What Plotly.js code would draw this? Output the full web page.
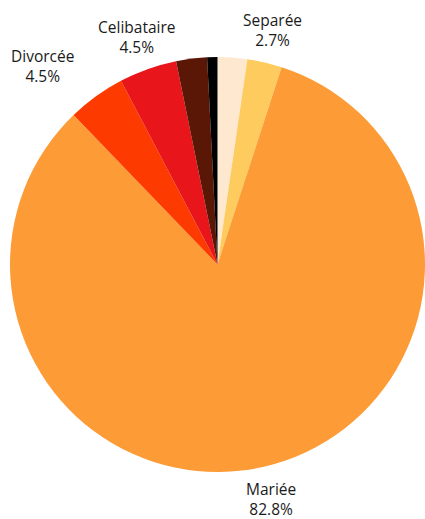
<!DOCTYPE html>
<html>
<head>
<meta charset="utf-8">
<script src="https://cdn.plot.ly/plotly-3.0.1.min.js"></script>
<style>html,body{margin:0;padding:0;background:#fff;}#chart{width:425px;height:519px;}</style>
</head>
<body>
<div id="chart"></div>
<script>
const labels = ["Veuve", "Separée", "Mariée", "Divorcée", "Celibataire", "Union libre", "Autre"];
const values = [2.3, 2.7, 82.8, 4.5, 4.5, 2.4, 0.8];
const colors = ["#FEE8CF", "#FECB5E", "#FD9B37", "#FD3A00", "#E8151A", "#5B1706", "#000000"];
const shownLabels = ["Separée", "Mariée", "Divorcée", "Celibataire"];

const W = 425, H = 519;
const margin = {l: 10, r: 0, t: 57, b: 47};
const FONT = "'Open Sans', sans-serif";
const FSIZE = 15.5;
const LINE_H = 21;

const plotW = W - margin.l - margin.r, plotH = H - margin.t - margin.b;
const R = Math.min(plotW, plotH) / 2;
const cx = margin.l + plotW / 2, cy = margin.t + plotH / 2;

const total = values.reduce((a, b) => a + b, 0);
const ctx = document.createElement("canvas").getContext("2d");
ctx.font = FSIZE + "px " + FONT;

const items = [];
let cum = 0;
values.forEach((v, i) => {
  const mid = (cum + v / 2) / total;
  cum += v;
  if (!shownLabels.includes(labels[i])) return;
  const pct = (v / total * 100).toFixed(1) + "%";
  const th = 2 * Math.PI * mid;
  const dx = Math.sin(th), dy = -Math.cos(th);
  const w = Math.max(ctx.measureText(labels[i]).width, ctx.measureText(pct).width);
  const hw = w / 2, hh = LINE_H;
  const edge = Math.min(Math.abs(dx) > 1e-6 ? hw / Math.abs(dx) : 1e9, Math.abs(dy) > 1e-6 ? hh / Math.abs(dy) : 1e9);
  const r0 = R * 1.055;
  items.push({label: labels[i], pct, dx, dy, hw, hh,
    x: cx + dx * (r0 + edge), y: cy + dy * (r0 + edge)});
});

// overlap avoidance: the label farther from the vertical axis moves outward horizontally
const gap = 24;
for (let a = 0; a < items.length; a++) {
  for (let b = a + 1; b < items.length; b++) {
    const p = items[a], q = items[b];
    const ox = (p.hw + q.hw + gap) - Math.abs(p.x - q.x);
    const oy = (p.hh + q.hh) - Math.abs(p.y - q.y);
    if (ox > 0 && oy > 0) {
      const m = Math.abs(p.dx) > Math.abs(q.dx) ? p : q;
      m.x += (m.dx < 0 ? -1 : 1) * ox;
    }
  }
}

const annotations = items.map(it => ({
  xref: "paper", yref: "paper",
  x: (it.x - margin.l) / plotW, y: 1 - (it.y - margin.t) / plotH,
  xanchor: "center", yanchor: "middle",
  text: it.label + "<br>" + it.pct,
  showarrow: false,
  font: {family: FONT, size: FSIZE, color: "#1a1a1a"}
}));

Plotly.newPlot("chart", [{
  type: "pie",
  labels: labels,
  values: values,
  sort: false,
  direction: "clockwise",
  rotation: 0,
  marker: {colors: colors, line: {width: 0}},
  textinfo: "none",
  showlegend: false,
  hoverinfo: "label+percent"
}], {
  width: W,
  height: H,
  margin: margin,
  paper_bgcolor: "#fff",
  showlegend: false,
  annotations: annotations
}, {displayModeBar: false, staticPlot: true});
</script>
</body>
</html>
